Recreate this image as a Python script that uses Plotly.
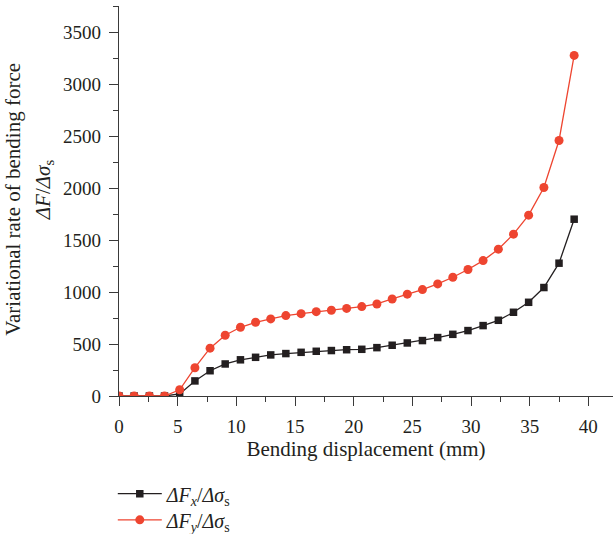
import plotly.graph_objects as go

displacement = [0.00, 1.29, 2.59, 3.88, 5.17, 6.47, 7.76, 9.05, 10.35, 11.64,
                12.93, 14.22, 15.52, 16.81, 18.10, 19.40, 20.69, 21.98, 23.28, 24.57,
                25.86, 27.16, 28.45, 29.74, 31.03, 32.33, 33.62, 34.91, 36.21, 37.50, 38.79]
dfx = [0, 0, 0, 0, 20, 145, 243, 308, 348, 372, 395, 408, 420, 430, 437, 445,
       449, 465, 488, 510, 533, 562, 593, 629, 677, 728, 805, 901, 1043, 1277, 1700]
dfy = [0, 0, 0, 0, 60, 272, 460, 584, 661, 709, 741, 773, 792, 811, 824, 842,
       860, 885, 933, 979, 1023, 1078, 1142, 1216, 1302, 1412, 1556, 1739, 2005, 2457, 3275]

name_x = "<i>ΔF<sub>x</sub></i>/<i>Δσ</i><sub>s</sub>"
name_y = "<i>ΔF<sub>y</sub></i>/<i>Δσ</i><sub>s</sub>"

FONT = "Liberation Serif, Times New Roman, serif"
INK = "#231F20"
AXC = "#3a3a3a"
RED = "#EE4530"

fig = go.Figure()
fig.add_trace(go.Scatter(x=displacement, y=dfx, mode="lines+markers", name=name_x,
                         line=dict(color=INK, width=1.3), legend="legend", showlegend=True,
                         marker=dict(symbol="square", size=7.5, color=INK)))
fig.add_trace(go.Scatter(x=displacement, y=dfy, mode="lines+markers", name=name_y,
                         line=dict(color=RED, width=1.3), legend="legend2", showlegend=True,
                         marker=dict(symbol="circle", size=9, color=RED)))

axis_common = dict(showgrid=False, zeroline=False, showline=True, linecolor=AXC,
                   linewidth=1.2, ticks="outside", ticklen=9, tickwidth=1.2,
                   tickcolor=AXC, tickfont=dict(family=FONT, size=19, color=INK))

fig.update_xaxes(range=[0, 42.1], dtick=5, tick0=0, ticklabelstandoff=4,
                 minor=dict(dtick=2.5, ticks="outside", ticklen=5, tickwidth=1.2, tickcolor=AXC),
                 title=dict(text="Bending displacement (mm)", font=dict(family=FONT, size=21, color=INK),
                            standoff=4),
                 **axis_common)
fig.update_yaxes(range=[0, 3750], dtick=500, tick0=0, ticklabelstandoff=4,
                 minor=dict(dtick=250, ticks="outside", ticklen=5, tickwidth=1.2, tickcolor=AXC),
                 **axis_common)

fig.add_annotation(text="Variational rate of bending force", textangle=-90,
                   xref="paper", yref="paper", x=-0.215, y=0.505, showarrow=False,
                   xanchor="center", yanchor="middle",
                   font=dict(family=FONT, size=21, color=INK))
fig.add_annotation(text="<i>ΔF</i>/<i>Δσ</i><sub>s</sub>", textangle=-90,
                   xref="paper", yref="paper", x=-0.152, y=0.53, showarrow=False,
                   xanchor="center", yanchor="middle",
                   font=dict(family=FONT, size=21, color=INK))

legend_style = dict(xref="container", yref="container", x=0.184,
                    xanchor="left", yanchor="top",
                    font=dict(family=FONT, size=20, color=INK),
                    itemwidth=44, bgcolor="rgba(0,0,0,0)")

fig.update_layout(
    width=613, height=534, showlegend=True,
    margin=dict(l=119, r=0, t=6, b=138, autoexpand=False),
    plot_bgcolor="white", paper_bgcolor="white",
    font=dict(family=FONT, color=INK),
    legend=dict(y=0.112, **legend_style),
    legend2=dict(y=0.063, **legend_style),
)

fig.write_html("out.html", config={"displayModeBar": False},
               post_script="document.body.style.margin='0';")
